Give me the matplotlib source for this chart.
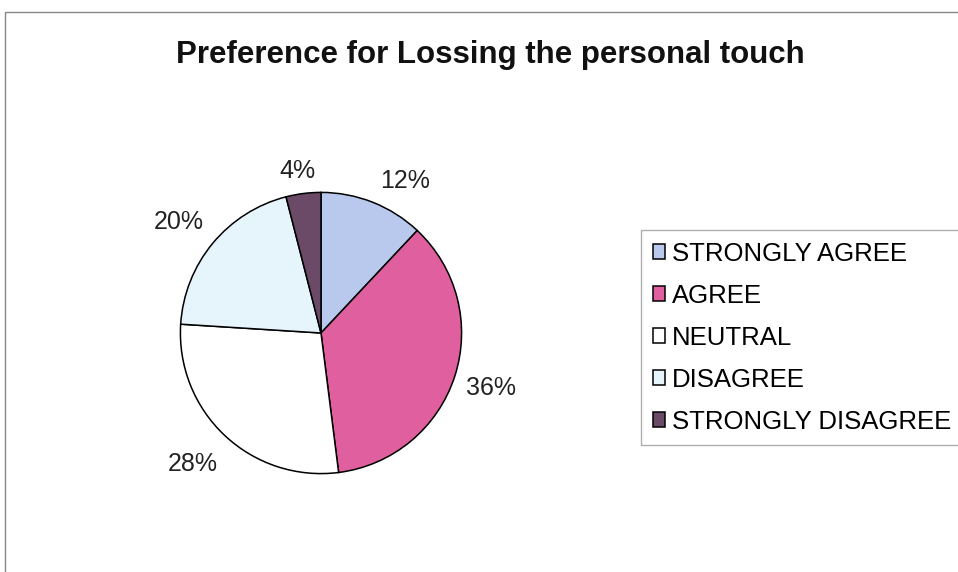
import matplotlib.pyplot as plt
from matplotlib.patches import Rectangle

categories = ["STRONGLY AGREE", "AGREE", "NEUTRAL", "DISAGREE", "STRONGLY DISAGREE"]
shares = [12, 36, 28, 20, 4]
colours = ["#B9C9EE", "#E0609F", "#FFFFFF", "#E6F5FB", "#6A4A66"]
title = "Preference for Lossing the personal touch"

# where Excel put each percentage label (pie radius units, from centre)
label_pos = [(0.60, 1.08), (1.21, -0.39), (-0.91, -0.93), (-1.01, 0.79), (-0.17, 1.15)]

plt.rcParams['font.family'] = ['Liberation Sans', 'DejaVu Sans']

fig = plt.figure(figsize=(9.58, 5.72), dpi=100)

# chart area frame
fig.patches.append(Rectangle((5 / 958, -0.05), 1.0, 1 - 12 / 572 + 0.05,
                             transform=fig.transFigure, fill=False,
                             edgecolor="#888888", linewidth=1))

ax = fig.add_axes([(321 - 142) / 958, (572 - 333 - 142) / 572, 284 / 958, 284 / 572])
wedges, texts, autotexts = ax.pie(
    shares, colors=colours, startangle=90, counterclock=False,
    autopct="%d%%", pctdistance=1.27,
    wedgeprops=dict(edgecolor="black", linewidth=1.1),
    textprops=dict(fontsize=18, color="#222222"))
ax.set_xlim(-1.01, 1.01)
ax.set_ylim(-1.01, 1.01)
ax.set_aspect("equal")
for t, p in zip(autotexts, label_pos):
    t.set_position(p)
    t.set_clip_on(False)

fig.text(490 / 958, 1 - 55 / 572, title, ha="center", va="center",
         fontsize=22.5, fontweight="bold", color="#111111")

leg = fig.legend(wedges, categories, loc="upper left",
                 bbox_to_anchor=(641 / 958, 1 - 230 / 572),
                 fontsize=18.5, frameon=True, fancybox=False,
                 handlelength=0.5, handleheight=0.5, handletextpad=0.25,
                 labelspacing=0.7, borderpad=0.45, borderaxespad=0)
leg.get_frame().set_edgecolor("#999999")
leg.get_frame().set_linewidth(1)

fig.savefig("out.png", dpi=100)
